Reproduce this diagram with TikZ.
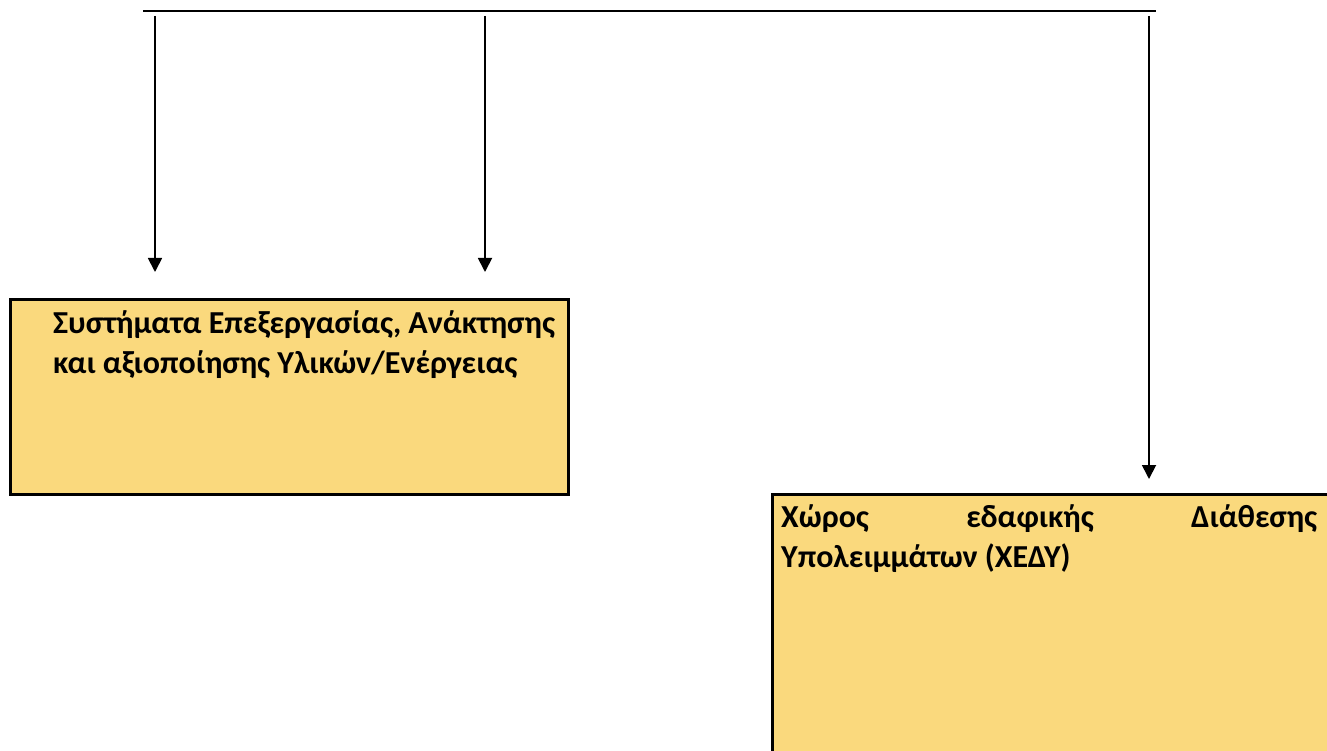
\documentclass[tikz,border=0pt]{standalone}
\usepackage{fontspec}
\setmainfont{Carlito}
\usetikzlibrary{arrows.meta}
\definecolor{boxfill}{RGB}{250,217,125}
\begin{document}
\begin{tikzpicture}[x=1pt,y=-1pt,
  conn/.style={line width=1.8pt,-{Triangle[width=14pt,length=14pt]}},
  rail/.style={line width=2pt},
  panel/.style={draw=black,line width=2.5pt,fill=boxfill,anchor=north west,inner sep=0pt},
  lbl/.style={font=\fontsize{32}{40}\selectfont\bfseries,anchor=base west,inner sep=0pt,align=left}]
\useasboundingbox (0,0) rectangle (1327,751);
\clip (0,0) rectangle (1327,751);
\coordinate (r1) at (143,11);
\coordinate (r2) at (1156,11);
\draw[rail] (r1) -- (r2);
\coordinate (s1) at (155,16);
\coordinate (e1) at (155,272);
\coordinate (s2) at (485,16);
\coordinate (e2) at (485,272);
\coordinate (s3) at (1149,16);
\coordinate (e3) at (1149,479);
\draw[conn] (s1) -- (e1);
\draw[conn] (s2) -- (e2);
\draw[conn] (s3) -- (e3);
\node[panel,minimum width=558pt,minimum height=195pt] (box1) at (9,298) {};
\node[panel,minimum width=620pt,minimum height=320pt] (box2) at (771,493) {};
\node[lbl] (t1) at (53,333) {Συστήματα Επεξεργασίας, Ανάκτησης};
\node[lbl] (t2) at (53,373) {και αξιοποίησης Υλικών/Ενέργειας};
\node[lbl] (t3) at (781,527) {\makebox[536pt][s]{Χώρος εδαφικής Διάθεσης}};
\node[lbl] (t4) at (781,567) {Υπολειμμάτων (ΧΕΔΥ)};
\end{tikzpicture}
\end{document}
